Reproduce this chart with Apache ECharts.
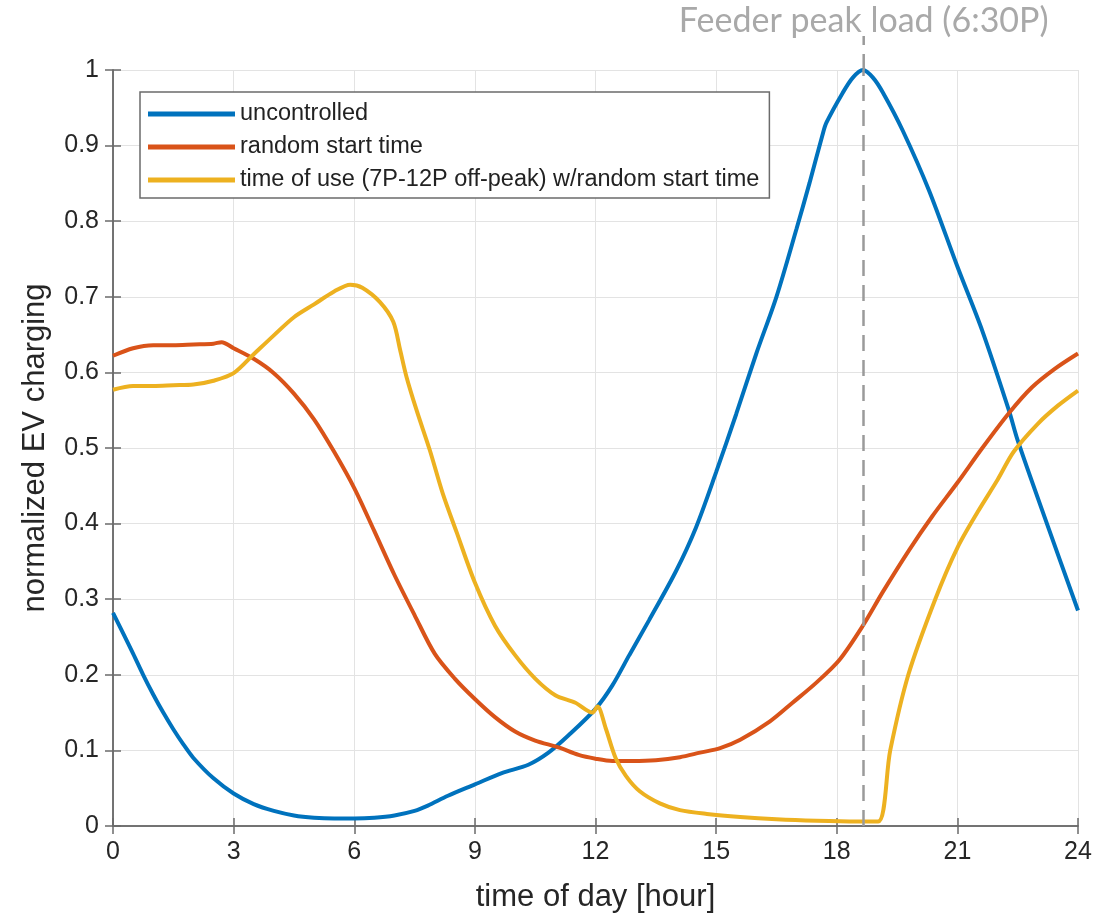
<!DOCTYPE html>
<html>
<head>
<meta charset="utf-8">
<script src="https://cdn.jsdelivr.net/npm/echarts@6/dist/echarts.min.js"></script>
<style>
html,body{margin:0;padding:0;background:#fff;}
#chart{width:1115px;height:920px;}
</style>
</head>
<body>
<div id="chart"></div>
<script>
// ---- data ----
const seriesNames = ['uncontrolled', 'random start time', 'time of use (7P-12P off-peak) w/random start time'];

const uncontrolledHours = [0,0.25,0.5,0.75,1,1.25,1.5,1.75,2,2.5,3,3.5,4,4.5,5,5.5,6,6.5,7,7.5,7.83,8.33,9,9.67,10.33,10.83,11.33,12,12.42,12.84,13.33,14,14.5,15,15.5,16,16.5,17,17.32,17.65,17.74,18.15,18.4,18.65,18.9,19.15,19.64,20.3,21,21.62,22.28,22.5,23.26,24];
const uncontrolledValues = [0.282,0.255,0.228,0.2,0.174,0.15,0.128,0.108,0.09,0.063,0.043,0.029,0.02,0.014,0.011,0.01,0.01,0.011,0.014,0.02,0.027,0.04,0.055,0.07,0.081,0.097,0.12,0.155,0.186,0.226,0.272,0.337,0.395,0.468,0.545,0.625,0.7,0.79,0.85,0.915,0.93,0.97,0.99,1.0,0.99,0.97,0.92,0.84,0.74,0.655,0.55,0.51,0.395,0.285];

const randomHours = [0,0.5,1,1.5,2,2.5,2.7,3,3.5,4,4.5,5,5.5,6,6.5,7,7.5,8,8.5,9,9.5,10,10.5,11.08,11.58,12,12.42,12.92,13.5,14.1,14.6,15.1,15.6,16.33,16.9,17.5,18.07,18.65,19.15,19.8,20.38,21,21.62,22.28,22.85,23.43,24];
const randomValues = [0.622,0.632,0.636,0.636,0.637,0.638,0.64,0.632,0.618,0.599,0.572,0.538,0.495,0.447,0.39,0.332,0.279,0.228,0.195,0.168,0.144,0.125,0.113,0.104,0.094,0.089,0.086,0.086,0.087,0.091,0.097,0.103,0.114,0.138,0.163,0.19,0.22,0.265,0.31,0.365,0.41,0.454,0.5,0.546,0.58,0.605,0.625];

const touHours = [0,0.5,1,1.5,2,2.5,3,3.5,4,4.5,5,5.5,5.9,6.2,6.64,6.97,7.14,7.3,7.55,7.88,8.2,8.55,9,9.5,10,10.5,11,11.5,11.92,12.05,12.25,12.5,12.76,13.1,13.6,14.1,14.77,15.6,16.5,17.5,18.5,19.03,19.33,19.78,20.45,21,21.5,22,22.4,23,23.5,24];
const touValues = [0.577,0.582,0.582,0.583,0.584,0.589,0.599,0.624,0.649,0.673,0.69,0.707,0.716,0.712,0.693,0.667,0.63,0.594,0.55,0.497,0.44,0.388,0.322,0.265,0.226,0.195,0.173,0.163,0.15,0.158,0.13,0.09,0.066,0.046,0.03,0.021,0.016,0.012,0.009,0.007,0.006,0.006,0.1,0.2,0.3,0.368,0.415,0.458,0.495,0.532,0.556,0.576];

const peakHour = 18.67;
const peakLabel = 'Feeder peak load (6:30P)';
const xTitle = 'time of day [hour]';
const yTitle = 'normalized EV charging';

// ---- chart ----
const zip = (xs, ys) => xs.map((x, i) => [x, ys[i]]);
const colors = ['#0072BD', '#D95319', '#EDB120'];
const axisColor = '#6b6b6b';
const gridColor = '#e3e3e3';
const font = 'Liberation Sans, Arial, sans-serif';
const dashColor = '#9a9a9a';

const chart = echarts.init(document.getElementById('chart'), null, {renderer: 'canvas'});
const lineBase = (name, data, color) => ({
  name, type: 'line', data, showSymbol: false, symbol: 'none',
  smooth: 0.3,
  lineStyle: {color, width: 4}, itemStyle: {color}, z: 3
});

const s0 = lineBase(seriesNames[0], zip(uncontrolledHours, uncontrolledValues), colors[0]);
s0.markLine = {
  silent: true, symbol: ['none', 'none'], animation: false,
  lineStyle: {color: dashColor, type: [16, 9], width: 2.5},
  label: {show: false},
  data: [{xAxis: peakHour}]
};

chart.setOption({
  animation: false,
  backgroundColor: '#fff',
  color: colors,
  grid: {left: 113, right: 37, top: 70, bottom: 94, containLabel: false},
  legend: {
    orient: 'vertical', left: 140, top: 92,
    padding: [10, 10, 6, 8], itemGap: 9,
    itemWidth: 87, itemHeight: 5, icon: 'rect',
    borderColor: '#6b6b6b', borderWidth: 1.5, backgroundColor: '#fff',
    textStyle: {fontSize: 23.5, color: '#222', fontFamily: font, lineHeight: 22},
    data: seriesNames
  },
  xAxis: [{
    type: 'value', min: 0, max: 24, interval: 3,
    name: xTitle, nameLocation: 'middle', nameGap: 56,
    nameTextStyle: {fontSize: 31, color: '#262626', fontFamily: font},
    axisLine: {show: true, lineStyle: {color: axisColor, width: 1.5}},
    axisTick: {show: true, inside: true, length: 8, lineStyle: {color: axisColor, width: 1.5}},
    axisLabel: {fontSize: 25, color: '#262626', fontFamily: font, margin: 14},
    splitLine: {show: true, lineStyle: {color: gridColor, width: 1}}
  }, {
    type: 'value', min: 0, max: 24, interval: 3, position: 'top',
    axisLine: {show: true, lineStyle: {color: axisColor, width: 1.5}},
    axisTick: {show: true, inside: true, length: 8, lineStyle: {color: axisColor, width: 1.5}},
    axisLabel: {show: false}, splitLine: {show: false}
  }],
  yAxis: [{
    type: 'value', min: 0, max: 1, interval: 0.1,
    name: yTitle, nameLocation: 'middle', nameGap: 62, nameRotate: 90,
    nameTextStyle: {fontSize: 31, color: '#262626', fontFamily: font},
    axisLine: {show: true, lineStyle: {color: axisColor, width: 1.5}},
    axisTick: {show: true, inside: true, length: 8, lineStyle: {color: axisColor, width: 1.5}},
    axisLabel: {fontSize: 25, color: '#262626', fontFamily: font, margin: 14},
    splitLine: {show: true, lineStyle: {color: gridColor, width: 1}}
  }, {
    type: 'value', min: 0, max: 1, interval: 0.1, position: 'right',
    axisLine: {show: true, lineStyle: {color: axisColor, width: 1.5}},
    axisTick: {show: true, inside: true, length: 8, lineStyle: {color: axisColor, width: 1.5}},
    axisLabel: {show: false}, splitLine: {show: false}
  }],
  series: [
    s0,
    lineBase(seriesNames[1], zip(randomHours, randomValues), colors[1]),
    lineBase(seriesNames[2], zip(touHours, touValues), colors[2])
  ]
});

// annotation above the plot: extension of the dashed peak line and its label
const peakTop = chart.convertToPixel({xAxisIndex: 0, yAxisIndex: 0}, [peakHour, 1]);
chart.setOption({
  graphic: [
    {type: 'line', silent: true, z: 5,
     shape: {x1: peakTop[0], y1: peakTop[1], x2: peakTop[0], y2: peakTop[1] - 34},
     style: {stroke: dashColor, lineWidth: 2.5, lineDash: [16, 9]}},
    {type: 'text', silent: true, z: 5,
     x: peakTop[0], y: peakTop[1] - 32,
     style: {text: peakLabel, fill: '#a9a9a9', font: '34px Lato, sans-serif',
             textAlign: 'center', textVerticalAlign: 'bottom'}}
  ]
});
</script>
</body>
</html>
